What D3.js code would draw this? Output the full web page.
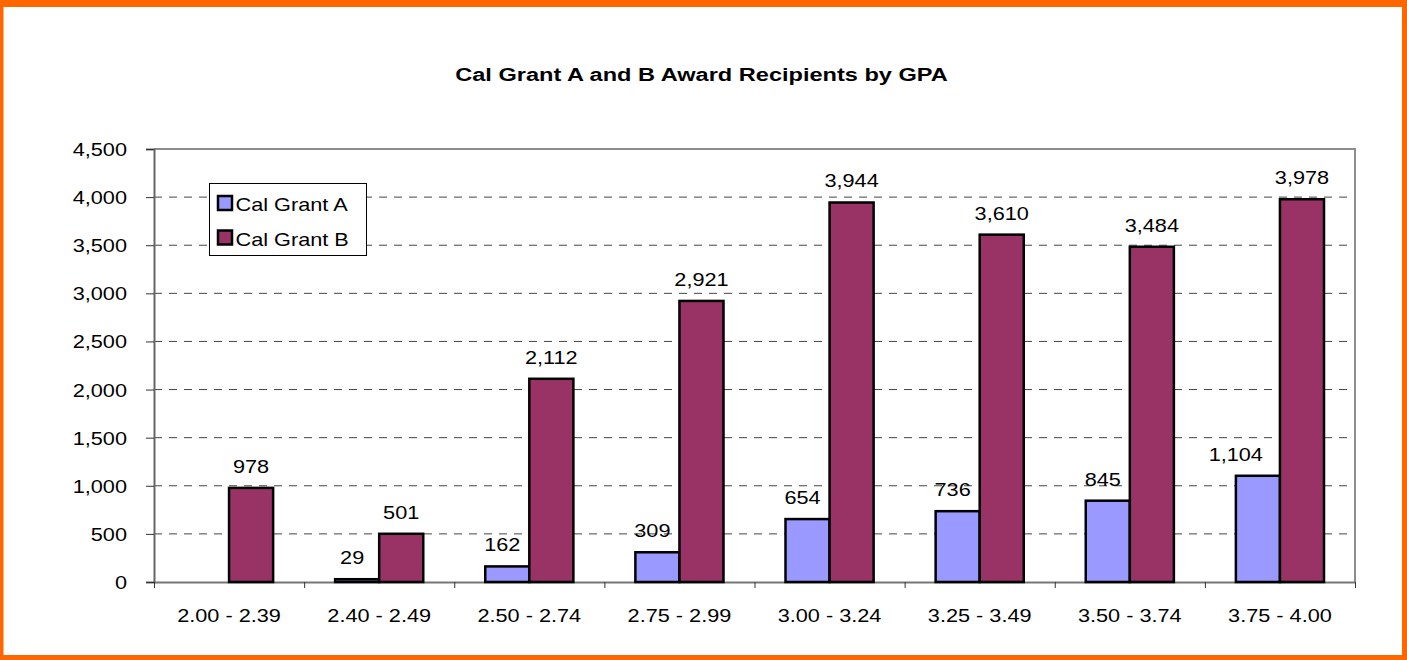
<!DOCTYPE html>
<html>
<head>
<meta charset="utf-8">
<script src="https://cdn.jsdelivr.net/npm/d3@7"></script>
<style>
  html, body { margin: 0; padding: 0; background: #fff; }
  svg { display: block; font-family: "Liberation Sans", Arial, sans-serif; }
</style>
</head>
<body>
<div id="chart"></div>
<script>
const categories = ["2.00 - 2.39", "2.40 - 2.49", "2.50 - 2.74", "2.75 - 2.99",
                    "3.00 - 3.24", "3.25 - 3.49", "3.50 - 3.74", "3.75 - 4.00"];
const seriesNames = ["Cal Grant A", "Cal Grant B"];
const grantA = [null, 29, 162, 309, 654, 736, 845, 1104];
const grantB = [978, 501, 2112, 2921, 3944, 3610, 3484, 3978];
const yTicks = [0, 500, 1000, 1500, 2000, 2500, 3000, 3500, 4000, 4500];
const colors = ["#9999FF", "#993366"];

const W = 1407, H = 660;
const plot = { left: 154, right: 1355, top: 149, bottom: 582 };
const fontSize = "17.5px";
const SX = 1.24; // the original text is drawn horizontally stretched

const svg = d3.select("#chart").append("svg")
    .attr("width", W)
    .attr("height", H);

// put text at (x,y) with a horizontal stretch
function place(sel, fx, fy) {
    sel.attr("x", 0).attr("y", 0)
       .attr("transform", (d, i) => `translate(${fx(d, i)},${fy(d, i)}) scale(${SX},1)`);
}

// orange frame
svg.append("rect").attr("width", W).attr("height", H).attr("fill", "#FF6600");
svg.append("rect").attr("x", 3.5).attr("y", 7).attr("width", 1402 - 3.5).attr("height", 655 - 7).attr("fill", "#fff");

// title
const title = svg.append("text")
   .attr("text-anchor", "middle")
   .style("font-size", "18.5px")
   .style("font-weight", "bold")
   .style("fill", "#000")
   .text("Cal Grant A and B Award Recipients by GPA");
const titleScale = 493 / title.node().getComputedTextLength();
title.attr("transform", `translate(701.5,80.5) scale(${titleScale},1)`);

const x0 = d3.scaleBand().domain(categories).range([plot.left, plot.right]).padding(0);
const x1 = d3.scaleBand().domain(seriesNames).range([31, x0.bandwidth() - 31]);
const y = d3.scaleLinear().domain([0, 4500]).range([plot.bottom, plot.top]);
const xEdge = d3.scaleLinear().domain([0, categories.length]).range([plot.left, plot.right]);

// gridlines
svg.append("g").selectAll("line")
   .data(yTicks.filter(d => d > 0 && d < 4500))
   .enter().append("line")
   .attr("x1", plot.left).attr("x2", plot.right)
   .attr("y1", d => y(d)).attr("y2", d => y(d))
   .attr("stroke", "#444")
   .attr("stroke-width", 1)
   .attr("stroke-dasharray", "8,7");

// plot frame (top and right)
svg.append("path")
   .attr("d", `M${plot.left},${y(4500)}H${plot.right}V${plot.bottom}`)
   .attr("fill", "none")
   .attr("stroke", "#8c8c8c")
   .attr("stroke-width", 2);

// y axis
const yAxis = svg.append("g")
   .attr("transform", `translate(${plot.left},0)`)
   .call(d3.axisLeft(y).tickValues(yTicks).tickFormat(d3.format(",")).tickSize(8));
yAxis.select(".domain").attr("stroke", "#666").attr("stroke-width", 2);
yAxis.selectAll(".tick line").attr("stroke", "#333");
yAxis.selectAll(".tick text")
   .attr("dy", null)
   .style("font-size", fontSize)
   .style("font-family", "'Liberation Sans', Arial, sans-serif")
   .attr("fill", "#000")
   .call(place, () => -27, () => 6.5);

// x axis: boundary ticks
const xAxis = svg.append("g")
   .attr("transform", `translate(0,${plot.bottom})`)
   .call(d3.axisBottom(xEdge).tickValues(d3.range(categories.length + 1)).tickFormat("").tickSize(6).tickSizeOuter(0));
xAxis.select(".domain").attr("stroke", "#777").attr("stroke-width", 2);
xAxis.selectAll(".tick line").attr("stroke", "#333");

// x labels
svg.append("g").selectAll("text")
   .data(categories)
   .enter().append("text")
   .attr("text-anchor", "middle")
   .style("font-size", fontSize)
   .style("fill", "#000")
   .text(d => d)
   .call(place, d => x0(d) + x0.bandwidth() / 2, () => 621.5);

// bars
const rows = categories.map((c, i) => ({ cat: c, values: [grantA[i], grantB[i]] }));
const barData = rows.flatMap(r => r.values.map((v, j) => ({ cat: r.cat, series: seriesNames[j], idx: j, value: v })))
                    .filter(d => d.value != null);

svg.append("g").selectAll("rect")
   .data(barData)
   .enter().append("rect")
   .attr("x", d => x0(d.cat) + x1(d.series))
   .attr("y", d => y(d.value))
   .attr("width", x1.bandwidth())
   .attr("height", d => y(0) - y(d.value))
   .attr("fill", d => colors[d.idx])
   .attr("stroke", "#000")
   .attr("stroke-width", 2.5);

// value labels (series A labels sit a little left, and clear the neighbour bar)
const labels = svg.append("g").selectAll("text")
   .data(barData)
   .enter().append("text")
   .attr("text-anchor", "middle")
   .style("font-size", fontSize)
   .style("fill", "#000")
   .text(d => d3.format(",")(d.value));
labels.each(function(d) {
    const barLeft = x0(d.cat) + x1(d.series);
    const barRight = barLeft + x1.bandwidth();
    const w = this.getComputedTextLength() * SX;
    let cx = barLeft + x1.bandwidth() / 2 + (d.idx === 0 ? -5 : 0);
    if (d.idx === 0 && cx + w / 2 > barRight) cx = barRight - 17 - w / 2;
    d.lx = cx;
});
labels.call(place, d => d.lx, d => y(d.value) - 15);

// legend
const legend = svg.append("g");
legend.append("rect")
   .attr("x", 209.5).attr("y", 183.5)
   .attr("width", 157).attr("height", 72)
   .attr("fill", "#fff")
   .attr("stroke", "#000")
   .attr("stroke-width", 1);
const items = legend.selectAll("g.item")
   .data(seriesNames)
   .enter().append("g")
   .attr("class", "item")
   .attr("transform", (d, i) => `translate(218,${196 + i * 34.5})`);
items.append("rect")
   .attr("width", 14).attr("height", 14)
   .attr("fill", (d, i) => colors[i])
   .attr("stroke", "#000")
   .attr("stroke-width", 2.5);
items.append("text")
   .style("font-size", fontSize)
   .style("fill", "#000")
   .text(d => d)
   .call(place, () => 17.5, () => 15);
</script>
</body>
</html>
